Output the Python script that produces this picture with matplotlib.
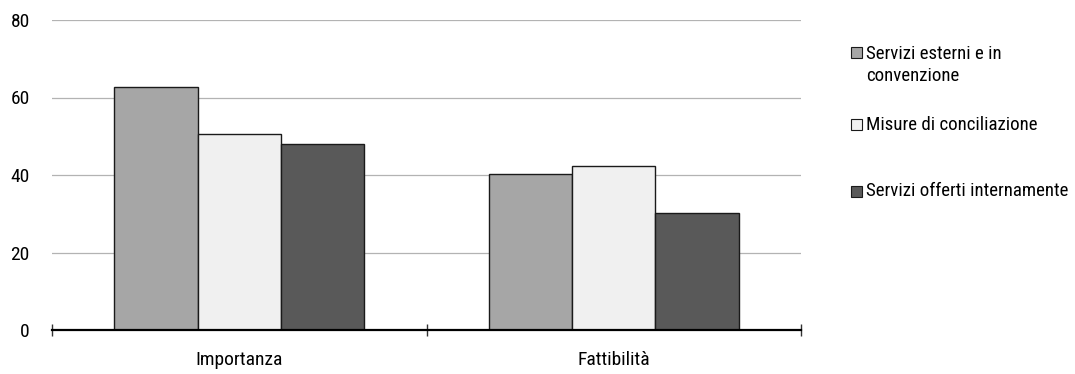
import matplotlib.pyplot as plt
import matplotlib.patches as patches
import numpy as np

plt.rcParams['font.family'] = ['Roboto Condensed', 'Liberation Sans', 'DejaVu Sans']
plt.rcParams['font.size'] = 14

categories = ['Importanza', 'Fattibilità']
series_names = ['Servizi esterni e in\nconvenzione',
                'Misure di conciliazione',
                'Servizi offerti internamente']
series_values = [
    [62.6, 40.3],   # Servizi esterni e in convenzione
    [50.6, 42.2],   # Misure di conciliazione
    [48.1, 30.1],   # Servizi offerti internamente
]
series_colors = ['#a6a6a6', '#f0f0f0', '#595959']
y_ticks = [0, 20, 40, 60, 80]

fig = plt.figure(figsize=(10.75, 3.74), dpi=100)
ax = fig.add_axes([52 / 1075, 44 / 374, 749 / 1075, 310 / 374])

n = len(series_values)
bar_w = 2.0 / 3.0 / n
centers = np.arange(len(categories)) + 0.5
for i, (vals, col) in enumerate(zip(series_values, series_colors)):
    offs = (i - (n - 1) / 2) * bar_w
    ax.bar(centers + offs, vals, width=bar_w, color=col,
           edgecolor='#1a1a1a', linewidth=1.0, zorder=3)

ax.set_xlim(0, len(categories))
ax.set_ylim(0, 80)
ax.set_yticks(y_ticks)
ax.yaxis.grid(True, color='#b3b3b3', linewidth=0.9, zorder=0)
ax.tick_params(axis='y', length=0, pad=16, labelsize=14)

# category boundaries get the tick marks, centers get the labels
ax.set_xticks(np.arange(len(categories) + 1))
ax.set_xticklabels([])
ax.set_xticks(centers, minor=True)
ax.set_xticklabels(categories, minor=True)
ax.tick_params(axis='x', which='major', direction='inout', length=9,
               width=1.0, color='#333333')
ax.tick_params(axis='x', which='minor', length=0, pad=15, labelsize=14)

for side in ['top', 'right', 'left']:
    ax.spines[side].set_visible(False)
ax.spines['bottom'].set_linewidth(1.6)
ax.spines['bottom'].set_color('#000000')
ax.spines['bottom'].set_zorder(4)

# legend on the right
legend_y = [52, 125, 191]
text_y = [65, 125, 191]
for name, col, sy, ty in zip(series_names, series_colors, legend_y, text_y):
    fig.patches.append(patches.Rectangle(
        (851 / 1075, 1 - (sy + 5.5) / 374), 11 / 1075, 11 / 374,
        facecolor=col, edgecolor='#1a1a1a', linewidth=0.8,
        transform=fig.transFigure))
    fig.text(866 / 1075, 1 - ty / 374, name, ha='left', va='center',
             fontsize=13.6, linespacing=1.25)

fig.savefig('out.png', dpi=100)
